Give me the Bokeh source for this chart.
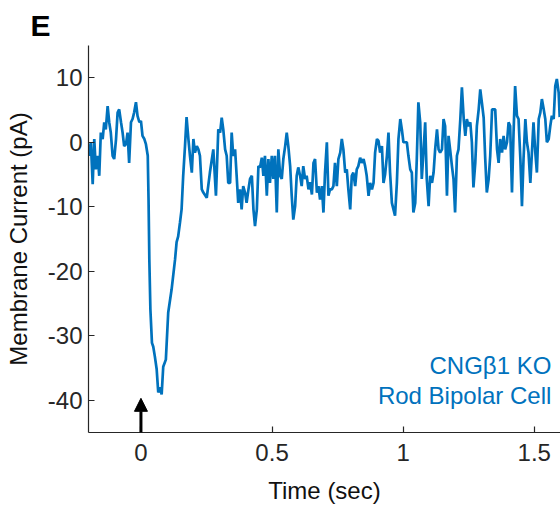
from bokeh.plotting import figure
from bokeh.models import Range1d, FixedTicker, Label, Arrow, NormalHead
from bokeh.embed import file_html
from bokeh.resources import INLINE

# ---- data ----
time_s = [
    -0.200, -0.197, -0.191, -0.184, -0.178, -0.172, -0.165, -0.159, -0.153, -0.146,
    -0.140, -0.134, -0.127, -0.121, -0.115, -0.108, -0.102, -0.095, -0.089, -0.083,
    -0.076, -0.070, -0.064, -0.057, -0.051, -0.045, -0.038, -0.032, -0.026, -0.019,
    -0.013, -0.006, 0.000, 0.006, 0.013, 0.019, 0.026,
    0.029, 0.032, 0.036, 0.042, 0.047, 0.053, 0.060, 0.066, 0.073, 0.079, 0.085,
    0.095, 0.104, 0.117, 0.130, 0.136, 0.142, 0.149, 0.155, 0.161, 0.168, 0.174,
    0.181, 0.187, 0.194, 0.200, 0.206, 0.213, 0.219, 0.225, 0.232, 0.238,
    0.251, 0.263, 0.276, 0.286, 0.295, 0.302, 0.308, 0.314, 0.321, 0.327,
    0.333, 0.340, 0.346, 0.352, 0.359, 0.365, 0.371, 0.378, 0.384, 0.390,
    0.397, 0.403, 0.410, 0.416, 0.423, 0.429, 0.435, 0.442, 0.448, 0.454,
    0.461, 0.467, 0.473, 0.480, 0.486, 0.492, 0.499, 0.505, 0.511, 0.518,
    0.524, 0.531, 0.537, 0.543, 0.550, 0.556, 0.562, 0.569, 0.575, 0.581,
    0.588, 0.594, 0.600, 0.607, 0.613, 0.619, 0.626, 0.632, 0.639, 0.645,
    0.652, 0.658, 0.664, 0.671, 0.677, 0.683, 0.690, 0.696, 0.702, 0.709,
    0.715, 0.721, 0.728, 0.734, 0.740, 0.747, 0.753, 0.760, 0.766, 0.772,
    0.779, 0.785, 0.791, 0.798, 0.804, 0.810, 0.817, 0.823, 0.829, 0.836,
    0.842, 0.849, 0.855, 0.861, 0.868, 0.874, 0.881, 0.887, 0.893, 0.900,
    0.906, 0.912, 0.919, 0.925, 0.931, 0.938, 0.944, 0.950, 0.957, 0.963,
    0.969, 0.976, 0.982, 0.989, 0.995, 1.001, 1.008, 1.014, 1.020, 1.027,
    1.033, 1.039, 1.046, 1.052, 1.058, 1.065, 1.071, 1.078, 1.084, 1.090,
    1.097, 1.103, 1.110, 1.116, 1.122, 1.129, 1.135, 1.141, 1.148, 1.154,
    1.160, 1.167, 1.173, 1.179, 1.186, 1.192, 1.198, 1.205, 1.211, 1.218,
    1.224, 1.231, 1.237, 1.243, 1.249, 1.256, 1.262, 1.268, 1.275, 1.281,
    1.288, 1.294, 1.300, 1.307, 1.313, 1.319, 1.326, 1.332, 1.339, 1.345,
    1.351, 1.358, 1.364, 1.370, 1.377, 1.383, 1.389, 1.396, 1.402, 1.408,
    1.415, 1.421, 1.427, 1.434, 1.440, 1.447, 1.453, 1.459, 1.466, 1.472,
    1.478, 1.485, 1.491, 1.497, 1.504, 1.510, 1.517, 1.523, 1.529, 1.536,
    1.542, 1.548, 1.555, 1.561, 1.567, 1.574, 1.580, 1.586, 1.593, 1.597,
]

current_pa = [
    -0.3, -2.1, 0.0, -6.5, 0.5, -4.2, -2.1, -5.2, 1.5, 0.5,
    3.1, 2.0, 5.6, 3.1, 1.5, -2.1, -2.6, 0.5, 4.6, 5.1,
    3.1, 1.5, -0.6, -0.3, 1.5, -3.2, 3.1, 3.6, 4.6, 6.2,
    4.1, 3.1, 3.3, 1.0, 0.5, -0.3, -2.1,
    -8.9, -18.2, -25.9, -31.1, -31.7, -33.2, -35.2, -38.8, -38.0, -39.1, -34.8,
    -33.7, -26.4, -22.8, -18.2, -15.5, -14.6, -12.4, -10.4, -5.3, -0.6, 3.9,
    0.5, -2.1, -4.7, 0.5, -1.6, -0.6, -1.1, -2.1, -7.3, -7.8,
    -8.6, -4.7, -1.1, -8.3, 2.0, 1.5, 3.8, 2.0, -1.1, -2.1,
    -6.3, -6.3, 1.5, -2.1, -1.1, -5.2, -9.4, -7.3, -10.4, -6.8,
    -7.8, -9.4, -7.3, -5.7, -5.2, -10.4, -13.0, -10.4, -3.7, -3.9,
    -2.4, -5.2, -2.1, -8.3, -2.6, -6.3, -2.1, -5.7, -2.1, -10.9,
    -1.1, -5.2, -5.7, -2.6, -0.6, 1.5, -0.6, -3.7, -8.3, -12.0,
    -9.9, -5.2, -3.9, -5.2, -6.8, -3.7, -5.7, -5.2, -7.3, -6.2,
    -8.1, -3.2, -2.6, -7.8, -6.8, -8.9, -6.8, -10.9, -4.7, 0.0,
    -8.3, -7.3, -7.3, -6.8, -3.2, -6.8, -2.6, -1.6, 0.5, -1.1,
    -4.7, -4.2, -7.3, -10.4, -5.2, -4.7, -6.8, -4.2, -3.7, -2.4,
    -3.2, -2.6, -3.7, -5.2, -8.3, -6.3, -7.3, -6.3, -1.6, 0.5,
    0.2, -1.6, -0.6, -6.3, -5.0, -2.1, 1.5, -4.7, -9.4, -10.4,
    -11.4, -6.3, 0.5, 3.6, 2.0, 0.0, 0.0, 0.0, -2.1, -4.2,
    -4.7, -10.9, -9.4, -2.6, 6.2, 3.1, -5.7, -1.1, 3.1, -5.7,
    -9.9, -5.2, -6.3, -4.7, -1.1, 2.0, -1.1, -1.6, -1.1, 3.6,
    2.5, -8.3, 1.0, -1.1, -3.7, -5.7, -10.9, -2.1, -1.1, 3.6,
    8.5, 3.6, 1.0, 3.6, 2.5, 3.1, 0.0, -7.0, -3.2, 2.5,
    5.1, 8.2, 6.2, 3.8, -2.6, -7.8, -5.7, -2.1, 5.1, 5.1,
    5.1, -1.1, -3.2, 0.5, -1.6, 1.0, -1.1, 0.0, 3.1, 2.5,
    -7.8, 1.5, 8.7, 4.1, 3.6, -2.6, -9.9, -2.6, 3.6, 0.0,
    -1.6, -6.3, -1.6, 3.1, -1.6, -4.7, 3.6, 4.6, 6.7, 5.1,
    3.6, 0.0, 0.5, 2.5, 4.1, 3.6, 8.7, 9.8, 7.7, 3.9,
]

x_ticks = [0, 0.5, 1, 1.5]
x_tick_labels = ["0", "0.5", "1", "1.5"]
y_ticks = [-40, -30, -20, -10, 0, 10]
y_tick_labels = ["-40", "-30", "-20", "-10", "0", "10"]
x_title = "Time (sec)"
y_title = "Membrane Current (pA)"
panel_letter = "E"
annotation_lines = ["CNG\u03b21 KO", "Rod Bipolar Cell"]
stimulus_time = 0.0

FONT = "Liberation Sans"
BLUE = "#0072BD"
AXC = "#262626"

p = figure(
    width=560, height=510,
    x_range=Range1d(-0.2, 1.6), y_range=Range1d(-45, 15),
    output_backend="svg", toolbar_location=None,
    min_border_left=88, min_border_right=0, min_border_top=45, min_border_bottom=78,
)
p.outline_line_color = None
p.xgrid.visible = False
p.ygrid.visible = False

p.title.text = panel_letter
p.title.align = "left"
p.title.offset = -58
p.title.text_font = FONT
p.title.text_font_size = "30px"
p.title.text_font_style = "bold"
p.title.text_color = "black"
p.title.standoff = 8

p.line(time_s, current_pa, line_color=BLUE, line_width=2.7)

for ax in (p.xaxis[0], p.yaxis[0]):
    ax.axis_line_color = AXC
    ax.axis_line_width = 1.2
    ax.major_tick_line_color = AXC
    ax.major_tick_line_width = 1.2
    ax.major_tick_in = 6
    ax.major_tick_out = 0
    ax.minor_tick_line_color = None
    ax.major_label_text_font = FONT
    ax.major_label_text_font_size = "24px"
    ax.major_label_text_color = AXC
    ax.axis_label_text_font = FONT
    ax.axis_label_text_font_size = "24px"
    ax.axis_label_text_font_style = "normal"
    ax.axis_label_text_color = "#111111"

p.xaxis.ticker = FixedTicker(ticks=x_ticks)
p.xaxis.major_label_overrides = dict(zip(x_ticks, x_tick_labels))
p.yaxis.ticker = FixedTicker(ticks=y_ticks)
p.yaxis.major_label_overrides = dict(zip(y_ticks, y_tick_labels))
p.xaxis.axis_label = x_title
p.yaxis.axis_label = y_title
p.xaxis.major_label_standoff = 11
p.xaxis.axis_label_standoff = 13
p.yaxis.major_label_standoff = 6
p.yaxis.axis_label_standoff = 13

p.add_layout(Label(x=1.565, y=-34.6, text=annotation_lines[0], text_font=FONT,
                   text_font_size="24px", text_color=BLUE,
                   text_align="right", text_baseline="middle"))
p.add_layout(Label(x=1.565, y=-39.3, text=annotation_lines[1], text_font=FONT,
                   text_font_size="24px", text_color=BLUE,
                   text_align="right", text_baseline="middle"))

p.add_layout(Arrow(end=NormalHead(size=13, fill_color="black", line_color="black", line_width=1),
                   x_start=stimulus_time, y_start=-45, x_end=stimulus_time, y_end=-39.7,
                   line_color="black", line_width=3))

open("out.html", "w").write(file_html(p, INLINE))
